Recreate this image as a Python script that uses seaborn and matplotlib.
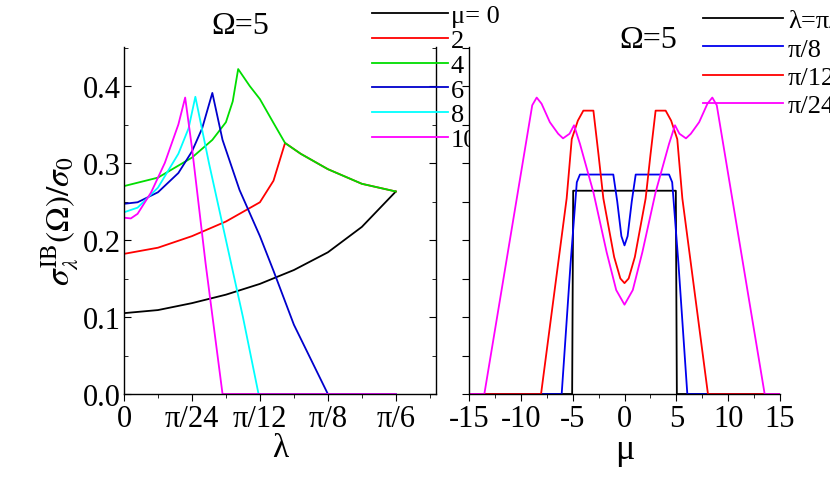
import numpy as np
import pandas as pd
import matplotlib
matplotlib.use("Agg")
import matplotlib.pyplot as plt
import seaborn as sns
from matplotlib.ticker import MultipleLocator, FixedLocator

plt.rcParams["font.family"] = "Liberation Serif"
plt.rcParams["mathtext.fontset"] = "stix"
plt.rcParams["axes.unicode_minus"] = False

P = np.pi / 24  # lambda unit

# ---- left panel: sigma vs lambda (x in units of pi/24) ----
mu_labels = ["μ= 0", "2", "4", "6", "8", "10"]
mu_colors = ["black", "red", "#00dd00", "#0000cc", "cyan", "magenta"]
lam_mu0 = [0, 0.5, 1, 1.5, 2, 2.5, 3, 3.5, 4]
sig_mu0 = [0.105, 0.109, 0.118, 0.129, 0.143, 0.161, 0.184, 0.217, 0.263]
lam_mu2 = [0, 0.5, 1, 1.5, 2, 2.2, 2.37, 2.6, 3, 3.5, 4]
sig_mu2 = [0.182, 0.190, 0.205, 0.224, 0.249, 0.277, 0.326, 0.312, 0.292, 0.273, 0.263]
lam_mu4 = [0, 0.5, 1, 1.3, 1.5, 1.6, 1.68, 1.85, 2.0, 2.2, 2.37, 2.6, 3, 3.5, 4]
sig_mu4 = [0.270, 0.281, 0.307, 0.330, 0.353, 0.380, 0.422, 0.400, 0.383, 0.352,
           0.326, 0.312, 0.292, 0.273, 0.263]
lam_mu6 = [0, 0.2, 0.5, 0.8, 1.0, 1.15, 1.3, 1.45, 1.7, 2.0, 2.2, 2.5, 3.0, 4.0]
sig_mu6 = [0.247, 0.249, 0.262, 0.287, 0.315, 0.345, 0.391, 0.33, 0.265, 0.205,
           0.16, 0.09, 0.0, 0.0]
lam_mu8 = [0, 0.2, 0.5, 0.8, 0.95, 1.05, 1.25, 1.5, 1.75, 1.98, 4.0]
sig_mu8 = [0.236, 0.242, 0.268, 0.312, 0.345, 0.386, 0.30, 0.20, 0.10, 0.0, 0.0]
lam_mu10 = [0, 0.1, 0.2, 0.4, 0.6, 0.8, 0.9, 1.0, 1.2, 1.45, 4.0]
sig_mu10 = [0.229, 0.228, 0.234, 0.262, 0.30, 0.35, 0.385, 0.32, 0.17, 0.0, 0.0]
left_series = [(lam_mu0, sig_mu0), (lam_mu2, sig_mu2), (lam_mu4, sig_mu4),
               (lam_mu6, sig_mu6), (lam_mu8, sig_mu8), (lam_mu10, sig_mu10)]

# ---- right panel: sigma vs mu ----
lam_labels = ["λ=π/6", "π/8", "π/12", "π/24"]
lam_colors = ["black", "#0000ee", "red", "magenta"]
mu_l6 = [-15, -5.05, -4.95, 0, 4.95, 5.05, 15]
sig_l6 = [0, 0, 0.264, 0.264, 0.264, 0, 0]
mu_l8 = [-15, -6.06, -5.2, -4.6, -4.3, -1.08, -0.7, -0.3, 0, 0.3, 0.7, 1.08,
         4.3, 4.6, 5.2, 6.06, 15]
sig_l8 = [0, 0, 0.17, 0.275, 0.285, 0.285, 0.25, 0.205, 0.193, 0.205, 0.25, 0.285,
          0.285, 0.275, 0.17, 0, 0]
mu_l12 = [-15, -8.05, -5.58, -5.09, -4.5, -3.97, -3.0, -2.5, -2.04, -1.0, -0.4, 0,
          0.4, 1.0, 2.04, 2.5, 3.0, 3.97, 4.5, 5.09, 5.58, 8.05, 15]
sig_l12 = [0, 0, 0.254, 0.331, 0.355, 0.368, 0.368, 0.31, 0.254, 0.178, 0.150, 0.144,
           0.150, 0.178, 0.254, 0.31, 0.368, 0.368, 0.355, 0.331, 0.254, 0, 0]
mu_l24 = [-15, -13.52, -8.9, -8.47, -8.0, -7.2, -6.4, -5.93, -5.3, -4.87, -4.3,
          -3.0, -1.72, -0.8, 0,
          0.8, 1.72, 3.0, 4.3, 4.87, 5.3, 5.93, 6.4, 7.2, 8.0, 8.47, 8.9, 13.52, 15]
sig_l24 = [0, 0, 0.375, 0.385, 0.377, 0.353, 0.338, 0.332, 0.338, 0.349, 0.325,
           0.262, 0.184, 0.135, 0.116,
           0.135, 0.184, 0.262, 0.325, 0.349, 0.338, 0.332, 0.338, 0.353, 0.377,
           0.385, 0.375, 0, 0]
right_series = [(mu_l6, sig_l6), (mu_l8, sig_l8), (mu_l12, sig_l12), (mu_l24, sig_l24)]

fig = plt.figure(figsize=(8.3, 4.85), dpi=100)
ax1 = fig.add_axes([124 / 830, 1 - 395 / 485, 312 / 830, 347 / 485])
ax2 = fig.add_axes([469 / 830, 1 - 395 / 485, 311 / 830, 347 / 485])

for (x, y), c, lab in zip(left_series, mu_colors, mu_labels):
    df = pd.DataFrame({"x": np.array(x) * P, "y": y})
    sns.lineplot(data=df, x="x", y="y", color=c, lw=1.3, sort=False,
                 estimator=None, ax=ax1, label=lab)
for (x, y), c, lab in zip(right_series, lam_colors, lam_labels):
    df = pd.DataFrame({"x": x, "y": y})
    sns.lineplot(data=df, x="x", y="y", color=c, lw=1.3, sort=False,
                 estimator=None, ax=ax2, label=lab)

ymax = 0.4 + 39 / 770
ax1.set_xlim(0, 0.601)
ax1.set_ylim(0, ymax)
ax1.set_xticks([0, P, 2 * P, 3 * P, 4 * P])
ax1.set_xticklabels(["0", "π/24", "π/12", "π/8", "π/6"])
ax1.xaxis.set_minor_locator(FixedLocator(np.arange(0.5, 9, 1) * P))
ax1.yaxis.set_major_locator(MultipleLocator(0.1))
ax1.yaxis.set_minor_locator(MultipleLocator(0.05))
ax1.yaxis.set_major_formatter(matplotlib.ticker.FormatStrFormatter("%.1f"))
ax1.tick_params(axis="y", which="both", direction="in", right=True)
ax1.tick_params(axis="x", which="both", direction="out")
ax1.tick_params(which="major", length=5, labelsize=22, pad=2)
ax1.tick_params(which="minor", length=3)
ax1.spines["top"].set_visible(False)
ax1.set_xlabel("λ", fontsize=24, labelpad=0)
ax1.set_ylabel(r"$\sigma_\lambda^{\rm IB}(\Omega)/\sigma_0$", fontsize=24, labelpad=2)

ax2.set_xlim(-15, 15)
ax2.set_ylim(0, ymax)
ax2.xaxis.set_major_locator(MultipleLocator(5))
ax2.xaxis.set_minor_locator(MultipleLocator(2.5))
ax2.yaxis.set_major_locator(MultipleLocator(0.05))
ax2.set_yticklabels([])
ax2.tick_params(which="both", direction="out")
ax2.tick_params(which="major", length=5, labelsize=22, pad=2)
ax2.tick_params(which="minor", length=3)
ax2.spines["top"].set_visible(False)
ax2.spines["right"].set_visible(False)
ax2.set_xlabel("μ", fontsize=26, labelpad=0)
ax2.set_ylabel("")

for sp in list(ax1.spines.values()) + list(ax2.spines.values()):
    sp.set_linewidth(1.0)

ax1.legend(loc="upper left", bbox_to_anchor=(0.76, 1.155), frameon=False,
           fontsize=19, handlelength=2.9, labelspacing=0.05,
           handletextpad=0.1, borderaxespad=0)
ax2.legend(loc="upper left", bbox_to_anchor=(0.72, 1.14), frameon=False,
           fontsize=19, handlelength=3.0, labelspacing=0.18,
           handletextpad=0.2, borderaxespad=0)

fig.text(240 / 830, 1 - 26 / 485, "Ω=5", fontsize=23, ha="center", va="center")
fig.text(648 / 830, 1 - 40 / 485, "Ω=5", fontsize=23, ha="center", va="center")

fig.savefig("out.png", dpi=100)
